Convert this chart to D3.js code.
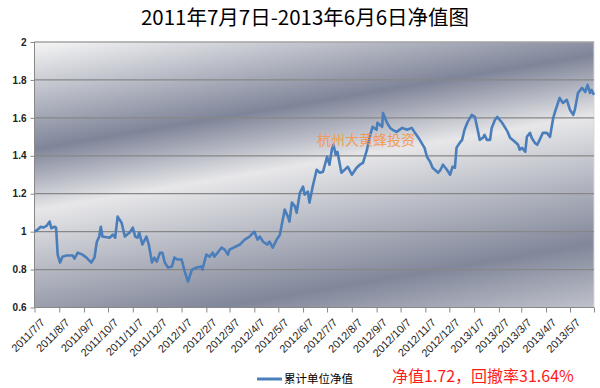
<!DOCTYPE html>
<html lang="zh">
<head>
    <meta charset="UTF-8">
    <title>净值图</title>
    <style>
        body {
            margin: 0;
            padding: 0;
            background-color: #fff;
        }
        #chart {
            width: 600px;
            height: 388px;
        }
        .grid line {
            stroke: #878787;
            stroke-width: 1.2px;
        }
        .axis text {
            font-family: 'Liberation Sans', Arial, sans-serif;
            font-size: 10px;
            fill: #222;
        }
        .axis path, .axis line {
            stroke: #888;
        }
    </style>
</head>
<body>
    <div id="chart"></div>

    <script src="https://d3js.org/d3.v7.min.js"></script>
    <script>
        // 累计单位净值
        const dates = [
            '2011-07-07','2011-07-11','2011-07-15','2011-07-18','2011-07-22','2011-07-26','2011-07-28','2011-08-01','2011-08-03','2011-08-05',
            '2011-08-08','2011-08-11','2011-08-16','2011-08-24','2011-08-26','2011-08-30','2011-09-05','2011-09-10','2011-09-16','2011-09-20',
            '2011-09-23','2011-09-26','2011-09-28','2011-09-30','2011-10-09','2011-10-13','2011-10-16','2011-10-19','2011-10-24','2011-10-28',
            '2011-11-03','2011-11-07','2011-11-10','2011-11-13','2011-11-15','2011-11-19','2011-11-24','2011-11-27','2011-12-01','2011-12-04',
            '2011-12-07','2011-12-11','2011-12-14','2011-12-17','2011-12-21','2011-12-26','2011-12-29','2012-01-02','2012-01-07','2012-01-11',
            '2012-01-15','2012-01-20','2012-01-26','2012-02-01','2012-02-02','2012-02-07','2012-02-11','2012-02-15','2012-02-17','2012-02-21',
            '2012-02-26','2012-03-01','2012-03-05','2012-03-07','2012-03-20','2012-03-26','2012-04-01','2012-04-07','2012-04-11','2012-04-14',
            '2012-04-18','2012-04-23','2012-04-26','2012-04-30','2012-05-05','2012-05-09','2012-05-15','2012-05-19','2012-05-21','2012-05-24',
            '2012-05-28','2012-05-30','2012-06-03','2012-06-07','2012-06-09','2012-06-13','2012-06-15','2012-06-19','2012-06-24','2012-06-28',
            '2012-07-02','2012-07-07','2012-07-10','2012-07-13','2012-07-15','2012-07-18','2012-07-20','2012-07-25','2012-07-29','2012-08-02',
            '2012-08-07','2012-08-13','2012-08-17','2012-08-21','2012-08-26','2012-08-29','2012-09-02','2012-09-07','2012-09-08','2012-09-14',
            '2012-09-15','2012-09-20','2012-09-24','2012-09-27','2012-10-02','2012-10-09','2012-10-15','2012-10-21','2012-10-25','2012-10-31',
            '2012-11-06','2012-11-09','2012-11-13','2012-11-16','2012-11-23','2012-11-26','2012-11-29','2012-12-04','2012-12-08','2012-12-11',
            '2012-12-14','2012-12-16','2012-12-20','2012-12-23','2012-12-26','2012-12-30','2013-01-04','2013-01-08','2013-01-12','2013-01-14',
            '2013-01-18','2013-01-20','2013-01-23','2013-01-27','2013-01-29','2013-02-02','2013-02-05','2013-02-11','2013-02-15','2013-02-18',
            '2013-02-21','2013-02-27','2013-03-03','2013-03-05','2013-03-08','2013-03-12','2013-03-14','2013-03-18','2013-03-20','2013-03-24',
            '2013-03-27','2013-03-30','2013-04-03','2013-04-08','2013-04-12','2013-04-16','2013-04-19','2013-04-24','2013-04-28','2013-05-03',
            '2013-05-07','2013-05-11','2013-05-13','2013-05-17','2013-05-22','2013-05-26','2013-05-29','2013-06-01','2013-06-03','2013-06-06'
        ];
        const navValues = [
            1.000,1.011,1.026,1.021,1.030,1.053,1.018,1.026,1.021,0.879,
            0.837,0.868,0.874,0.874,0.858,0.889,0.879,0.863,0.837,0.863,
            0.947,0.974,1.026,0.974,0.968,0.984,0.968,1.079,1.047,0.974,
            0.995,1.021,0.974,0.968,0.995,0.932,0.974,0.932,0.837,0.863,
            0.842,0.889,0.889,0.837,0.811,0.816,0.863,0.853,0.853,0.789,
            0.737,0.800,0.811,0.816,0.800,0.879,0.868,0.889,0.868,0.889,
            0.916,0.905,0.879,0.905,0.932,0.958,0.974,1.000,0.958,0.974,
            0.947,0.932,0.947,0.916,0.958,0.984,1.116,1.079,1.053,1.153,
            1.132,1.100,1.205,1.237,1.195,1.211,1.153,1.237,1.326,1.311,
            1.316,1.395,1.353,1.432,1.458,1.405,1.421,1.311,1.326,1.342,
            1.300,1.337,1.353,1.363,1.432,1.495,1.553,1.537,1.574,1.553,
            1.626,1.574,1.547,1.537,1.526,1.547,1.537,1.547,1.521,1.484,
            1.442,1.395,1.368,1.337,1.311,1.326,1.353,1.326,1.300,1.342,
            1.337,1.442,1.468,1.484,1.537,1.579,1.616,1.605,1.526,1.484,
            1.495,1.511,1.484,1.484,1.547,1.589,1.605,1.574,1.547,1.526,
            1.495,1.474,1.458,1.432,1.442,1.421,1.500,1.521,1.495,1.468,
            1.458,1.484,1.521,1.521,1.500,1.600,1.642,1.705,1.679,1.695,
            1.642,1.616,1.642,1.732,1.758,1.737,1.774,1.732,1.747,1.721
        ];
        const yTicks = [0.6, 0.8, 1, 1.2, 1.4, 1.6, 1.8, 2];
        const xTickLabels = [
            '2011/7/7','2011/8/7','2011/9/7','2011/10/7','2011/11/7','2011/12/7',
            '2012/1/7','2012/2/7','2012/3/7','2012/4/7','2012/5/7','2012/6/7',
            '2012/7/7','2012/8/7','2012/9/7','2012/10/7','2012/11/7','2012/12/7',
            '2013/1/7','2013/2/7','2013/3/7','2013/4/7','2013/5/7'
        ];

        const width = 600, height = 388;
        const margin = { top: 42, right: 6, bottom: 80.5, left: 34.5 };
        const innerW = width - margin.left - margin.right;
        const innerH = height - margin.top - margin.bottom;

        const parse = d3.timeParse('%Y-%m-%d');
        const parseTick = d3.timeParse('%Y/%m/%d');
        const data = dates.map((d, i) => ({ date: parse(d), value: navValues[i] }));

        const svg = d3.select('#chart')
            .append('svg')
            .attr('width', width)
            .attr('height', height);

        // background gradient of the plot area (slanted bands)
        const defs = svg.append('defs');
        const grad = defs.append('linearGradient')
            .attr('id', 'plotBg')
            .attr('gradientUnits', 'userSpaceOnUse')
            .attr('x1', 0).attr('y1', 0)
            .attr('x2', 0).attr('y2', 370)
            .attr('gradientTransform', 'skewY(-9.6)');
        [
            [0, '#f6f6f6'],
            [0.29, '#7f8599'],
            [0.455, '#e7e7e9'],
            [0.80, '#81879a'],
            [1, '#c9cbd3']
        ].forEach(s => grad.append('stop').attr('offset', s[0]).attr('stop-color', s[1]));

        const x = d3.scaleTime()
            .domain([parse('2011-07-07'), parse('2013-06-06')])
            .range([0, innerW]);
        const y = d3.scaleLinear()
            .domain([0.6, 2])
            .range([innerH, 0]);

        const g = svg.append('g')
            .attr('transform', `translate(${margin.left}, ${margin.top})`);

        g.append('rect')
            .attr('width', innerW)
            .attr('height', innerH)
            .attr('fill', 'url(#plotBg)')
            .attr('stroke', '#d9d9d9');

        // horizontal gridlines
        g.append('g')
            .attr('class', 'grid')
            .selectAll('line')
            .data(yTicks.slice(1))
            .enter()
            .append('line')
            .attr('x1', 0)
            .attr('x2', innerW)
            .attr('y1', d => y(d))
            .attr('y2', d => y(d));

        // y axis
        const yAxis = g.append('g')
            .attr('class', 'axis')
            .call(d3.axisLeft(y).tickValues(yTicks).tickSize(4).tickPadding(4).tickFormat(d3.format('')));
        yAxis.select('.domain').attr('d', `M0,0V${innerH}`);
        yAxis.selectAll('text').style('font-weight', 'bold').attr('fill', '#222');

        // x axis
        const tickDates = xTickLabels.map(t => parseTick(t)).concat([parse('2013-06-06')]);
        const xAxis = g.append('g')
            .attr('class', 'axis')
            .attr('transform', `translate(0, ${innerH})`)
            .call(d3.axisBottom(x).tickValues(tickDates).tickSize(5)
                .tickFormat((d, i) => xTickLabels[i] || ''));
        xAxis.select('.domain').attr('d', `M0,0H${innerW}`);
        xAxis.selectAll('text')
            .attr('text-anchor', 'end')
            .attr('dx', 0)
            .attr('dy', 0)
            .attr('transform', 'translate(5, 10) rotate(-45)')
            .style('font-size', '11px')
            .attr('fill', '#222');

        // net value line
        const line = d3.line()
            .x(d => x(d.date))
            .y(d => y(d.value));

        g.append('path')
            .datum(data)
            .attr('fill', 'none')
            .attr('stroke', '#4a7ebb')
            .attr('stroke-width', 2.6)
            .attr('stroke-linejoin', 'round')
            .attr('d', line);

        // watermark
        svg.append('text')
            .attr('x', 366)
            .attr('y', 145)
            .attr('text-anchor', 'middle')
            .style('font-family', "'Noto Sans CJK SC', sans-serif")
            .style('font-size', '14px')
            .style('fill', '#f79646')
            .style('opacity', 0.9)
            .text('杭州大黄蜂投资');

        // title
        svg.append('text')
            .attr('x', 305)
            .attr('y', 25)
            .attr('text-anchor', 'middle')
            .style('font-family', "'Noto Sans CJK SC', sans-serif")
            .style('font-size', '20.5px')
            .style('fill', '#000')
            .text('2011年7月7日-2013年6月6日净值图');

        // legend
        svg.append('line')
            .attr('x1', 257).attr('x2', 282)
            .attr('y1', 379).attr('y2', 379)
            .attr('stroke', '#4a7ebb')
            .attr('stroke-width', 3);
        svg.append('text')
            .attr('x', 284)
            .attr('y', 383)
            .style('font-family', "'Noto Sans CJK SC', sans-serif")
            .style('font-size', '11.5px')
            .style('fill', '#000')
            .text('累计单位净值');

        svg.append('text')
            .attr('x', 392)
            .attr('y', 382)
            .style('font-family', "'Noto Sans CJK SC', sans-serif")
            .style('font-size', '16px')
            .style('fill', '#ff1a1a')
            .text('净值1.72，回撤率31.64%');
    </script>
</body>
</html>
